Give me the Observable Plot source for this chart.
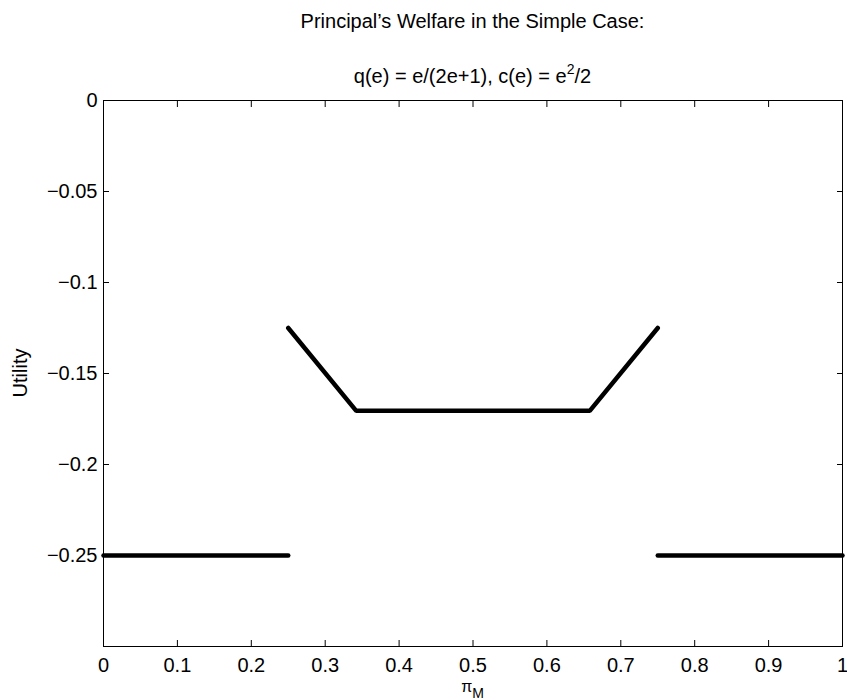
<!DOCTYPE html>
<html>
<head>
<meta charset="utf-8">
<script src="https://cdn.jsdelivr.net/npm/d3@7"></script>
<script src="https://cdn.jsdelivr.net/npm/@observablehq/plot@0.6"></script>
<style>
  html, body { margin: 0; padding: 0; background: #fff; }
  #chart svg { display: block; }
</style>
</head>
<body>
<div id="chart"></div>
<script>
// ---- data ----
const titleLine1 = "Principal\u2019s Welfare in the Simple Case:";
const titleLine2Main = "q(e) = e/(2e+1), c(e) = e";
const titleLine2Sup = "2";
const titleLine2End = "/2";
const yLabel = "Utility";
const xLabelMain = "\u03c0";
const xLabelSub = "M";

const xTicks = [0, 0.1, 0.2, 0.3, 0.4, 0.5, 0.6, 0.7, 0.8, 0.9, 1];
const xTickLabels = ["0", "0.1", "0.2", "0.3", "0.4", "0.5", "0.6", "0.7", "0.8", "0.9", "1"];
const yTicks = [0, -0.05, -0.1, -0.15, -0.2, -0.25];
const yTickLabels = ["0", "\u22120.05", "\u22120.1", "\u22120.15", "\u22120.2", "\u22120.25"];

const segment = ["left", "left", "middle", "middle", "middle", "middle", "right", "right"];
const piM     = [0,     0.25,   0.25,     0.342,    0.658,    0.75,     0.75,    1];
const utility = [-0.25, -0.25,  -0.125,   -0.1705,  -0.1705,  -0.125,   -0.25,   -0.25];

// ---- build ----
const data = piM.map((x, i) => ({ segment: segment[i], piM: x, utility: utility[i] }));
const xLab = new Map(xTicks.map((v, i) => [v, xTickLabels[i]]));
const yLab = new Map(yTicks.map((v, i) => [v, yTickLabels[i]]));

const W = 847, H = 700;
const font = "'Liberation Sans', Arial, Helvetica, sans-serif";

const plot = Plot.plot({
  width: W,
  height: H,
  marginLeft: 103,
  marginRight: 5,
  marginTop: 100,
  marginBottom: 54,
  style: { fontFamily: font, background: "#fff", color: "black" },
  x: { domain: [0, 1], label: null },
  y: { domain: [-0.3, 0], label: null },
  marks: [
    Plot.frame({ stroke: "black", strokeWidth: 1 }),
    Plot.axisX(xTicks, { anchor: "bottom", tickSize: -6, tickPadding: 17, fontSize: 20, label: null,
      tickFormat: d => xLab.get(d), stroke: "black", fill: "black" }),
    Plot.axisX(xTicks, { anchor: "top", tickSize: -6, label: null, tickFormat: () => "" }),
    Plot.axisY(yTicks, { anchor: "left", tickSize: -6, tickPadding: 12, fontSize: 20, label: null,
      tickFormat: d => yLab.get(d) }),
    Plot.axisY(yTicks, { anchor: "right", tickSize: -6, label: null, tickFormat: () => "" }),
    Plot.line(data, { x: "piM", y: "utility", z: "segment", stroke: "black", strokeWidth: 4.5,
      strokeLinecap: "round", strokeLinejoin: "miter" })
  ]
});

document.getElementById("chart").appendChild(plot);

// ---- annotations (titles and axis labels) ----
const svg = d3.select(plot);
const xs = plot.scale("x"), ys = plot.scale("y");
const cx = xs.apply(0.5);
const cy = (ys.apply(0) + ys.apply(-0.3)) / 2;

svg.append("text")
  .attr("x", cx).attr("y", 28)
  .attr("text-anchor", "middle")
  .attr("font-family", font).attr("font-size", 20).attr("fill", "black")
  .text(titleLine1);

const t2 = svg.append("text")
  .attr("x", cx).attr("y", 83)
  .attr("text-anchor", "middle")
  .attr("font-family", font).attr("font-size", 20).attr("fill", "black");
t2.append("tspan").text(titleLine2Main);
t2.append("tspan").attr("font-size", 14).attr("dy", -9).text(titleLine2Sup);
t2.append("tspan").attr("dy", 9).text(titleLine2End);

svg.append("text")
  .attr("transform", `translate(27,${cy}) rotate(-90)`)
  .attr("text-anchor", "middle")
  .attr("font-family", font).attr("font-size", 20).attr("fill", "black")
  .text(yLabel);

const xl = svg.append("text")
  .attr("x", cx).attr("y", 692)
  .attr("text-anchor", "middle")
  .attr("font-family", font).attr("font-size", 16).attr("fill", "black");
xl.append("tspan").text(xLabelMain);
xl.append("tspan").attr("font-size", 14).attr("dy", 6).text(xLabelSub);
</script>
</body>
</html>
